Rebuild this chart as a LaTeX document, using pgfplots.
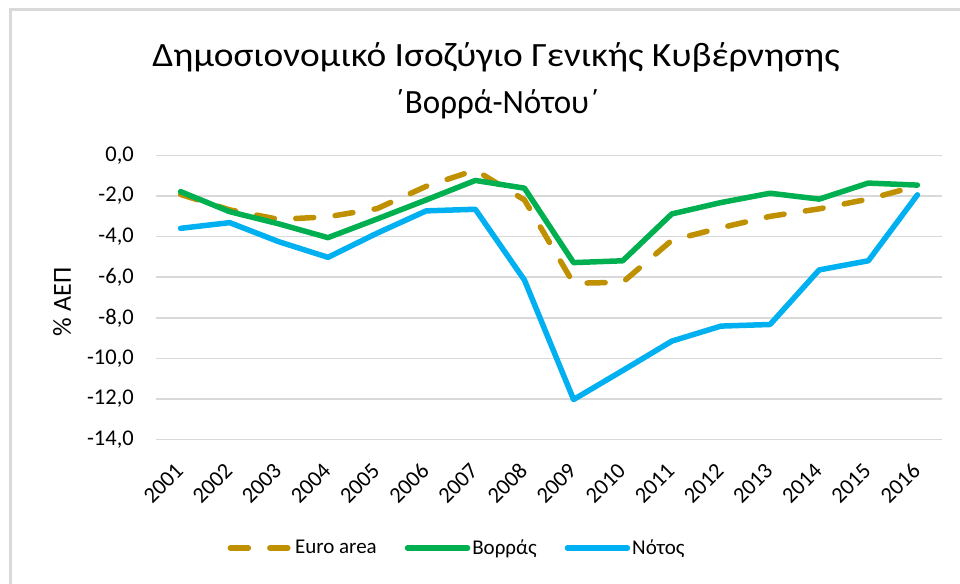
\documentclass[border=0pt]{standalone}
\usepackage{fontspec}
\setmainfont{Carlito}
\usepackage{pgfplots}
\pgfplotsset{compat=1.18}
\definecolor{eurogold}{HTML}{BF9000}
\definecolor{northgreen}{HTML}{00B050}
\definecolor{southblue}{HTML}{00B0F0}
\definecolor{gridgrey}{HTML}{D9D9D9}
\begin{document}
\begin{tikzpicture}[x=1pt,y=1pt]
\useasboundingbox (0,0) rectangle (960,583);
\draw[gridgrey, line width=3pt] (10,-10) -- (10,573) -- (980,573);
\node[anchor=base, font=\fontsize{34}{40}\selectfont] at (496,516) {\scalebox{1.10}[1]{Δημοσιονομικό Ισοζύγιο Γενικής Κυβέρνησης}};
\node[anchor=base, font=\fontsize{34}{40}\selectfont] at (497,469) {\scalebox{0.97}[1]{΄Βορρά-Νότου΄}};
\node[rotate=90, font=\fontsize{26}{30}\selectfont] at (62,281) {\% ΑΕΠ};
\begin{axis}[
  at={(156pt,143.5pt)}, anchor=south west,
  scale only axis, width=786pt, height=284pt,
  xmin=0.5, xmax=16.5, ymin=-14, ymax=0,
  axis line style={draw=none},
  major tick length=0pt,
  ymajorgrids, grid style={gridgrey, line width=1.5pt},
  ytick={-14,-12,-10,-8,-6,-4,-2,0},
  yticklabels={{-14,0},{-12,0},{-10,0},{-8,0},{-6,0},{-4,0},{-2,0},{0,0}},
  xtick={1,...,16},
  xticklabels={2001,2002,2003,2004,2005,2006,2007,2008,2009,2010,2011,2012,2013,2014,2015,2016},
  tick label style={font=\fontsize{22.5}{26}\selectfont},
  yticklabel style={anchor=east, inner sep=0pt, xshift=-22pt},
  xticklabel style={yshift=-27.5pt, xshift=-1pt, rotate=45, anchor=east, inner sep=0pt},
  clip=false,
  legend columns=3,
  legend style={draw=none, fill=none, at={(0.383,-0.382)}, anchor=center,
    font=\fontsize{21}{25}\selectfont,
    /tikz/every even column/.append style={column sep=26pt}},
  legend image code/.code={\draw[#1] (0pt,0pt) -- (60pt,0pt);},
  every axis plot/.append style={line width=5.5pt, line cap=round, line join=round, mark=none},
]
\addplot[eurogold, dash pattern=on 18pt off 21.5pt] coordinates {
(1,-1.92) (2,-2.68) (3,-3.15) (4,-3.02) (5,-2.62) (6,-1.52) (7,-0.72) (8,-2.19)
(9,-6.30) (10,-6.25) (11,-4.18) (12,-3.56) (13,-3.00) (14,-2.63) (15,-2.15) (16,-1.50)};
\addlegendentry{Euro area}
\addplot[northgreen] coordinates {
(1,-1.78) (2,-2.77) (3,-3.37) (4,-4.05) (5,-3.13) (6,-2.19) (7,-1.23) (8,-1.61)
(9,-5.28) (10,-5.19) (11,-2.88) (12,-2.32) (13,-1.86) (14,-2.15) (15,-1.36) (16,-1.46)};
\addlegendentry{Βορράς}
\addplot[southblue] coordinates {
(1,-3.59) (2,-3.31) (3,-4.25) (4,-5.02) (5,-3.83) (6,-2.73) (7,-2.65) (8,-6.14)
(9,-12.03) (10,-10.6) (11,-9.15) (12,-8.41) (13,-8.33) (14,-5.64) (15,-5.19) (16,-1.94)};
\addlegendentry{Νότος}
\end{axis}
\end{tikzpicture}
\end{document}
